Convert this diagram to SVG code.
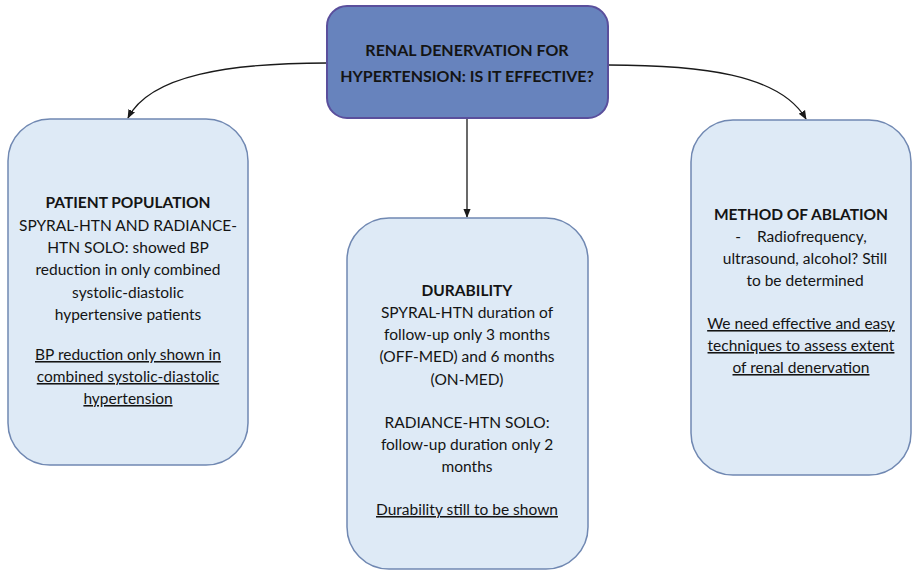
<svg xmlns="http://www.w3.org/2000/svg" width="918" height="571" viewBox="0 0 918 571">
<style>
.top{fill:#6783bd;stroke:#5a4f9c;stroke-width:2}
.box{fill:#deeaf6;stroke:#7088b2;stroke-width:1.5}
text{font-family:Lato,"Open Sans","Liberation Sans",sans-serif;font-size:15.5px;fill:#141414;text-anchor:middle}
.b{font-weight:bold}
.t{font-weight:bold;font-size:16px}
.u{text-decoration:underline}
.con{fill:none;stroke:#1a1a1a;stroke-width:1.3}
</style>
<defs>
<marker id="ah" viewBox="0 0 10 10" refX="9" refY="5" markerWidth="7" markerHeight="7" orient="auto-start-reverse">
<path d="M0,1 L10,5 L0,9 z" fill="#1a1a1a"/>
</marker>
</defs>
<rect width="918" height="571" fill="#ffffff"/>
<g id="connectors">
<path class="con" d="M327,63 C230,63 150,75 128,118" marker-end="url(#ah)"/>
<path class="con" d="M608,65 C700,65 780,74 806,119" marker-end="url(#ah)"/>
<path class="con" d="M467,118 L467,217" marker-end="url(#ah)"/>
</g>
<g id="root">
<rect class="top" x="327" y="6" width="281" height="112" rx="20"/>
<text class="t" x="467" y="56">RENAL DENERVATION FOR</text>
<text class="t" x="467" y="82">HYPERTENSION: IS IT EFFECTIVE?</text>
</g>
<g id="patient-population">
<rect class="box" x="8" y="119" width="240" height="346" rx="42"/>
<text class="b" x="128" y="208">PATIENT POPULATION</text>
<text x="128" y="231">SPYRAL-HTN AND RADIANCE-</text>
<text x="128" y="253">HTN SOLO: showed BP</text>
<text x="128" y="275">reduction in only combined</text>
<text x="128" y="298">systolic-diastolic</text>
<text x="128" y="320">hypertensive patients</text>
<text class="u" x="128" y="360">BP reduction only shown in</text>
<text class="u" x="128" y="382">combined systolic-diastolic</text>
<text class="u" x="128" y="404">hypertension</text>
</g>
<g id="durability">
<rect class="box" x="347" y="218" width="241" height="351" rx="42"/>
<text class="b" x="467" y="296">DURABILITY</text>
<text x="467" y="318">SPYRAL-HTN duration of</text>
<text x="467" y="340">follow-up only 3 months</text>
<text x="467" y="362">(OFF-MED) and 6 months</text>
<text x="467" y="385">(ON-MED)</text>
<text x="467" y="428">RADIANCE-HTN SOLO:</text>
<text x="467" y="450">follow-up duration only 2</text>
<text x="467" y="472">months</text>
<text class="u" x="467" y="515">Durability still to be shown</text>
</g>
<g id="method-of-ablation">
<rect class="box" x="691" y="120" width="220" height="355" rx="42"/>
<text class="b" x="801" y="220">METHOD OF ABLATION</text>
<text x="801" y="242" xml:space="preserve">-    Radiofrequency,</text>
<text x="805" y="264">ultrasound, alcohol? Still</text>
<text x="805" y="286">to be determined</text>
<text class="u" x="801" y="329">We need effective and easy</text>
<text class="u" x="801" y="351">techniques to assess extent</text>
<text class="u" x="801" y="373">of renal denervation</text>
</g>
</svg>
